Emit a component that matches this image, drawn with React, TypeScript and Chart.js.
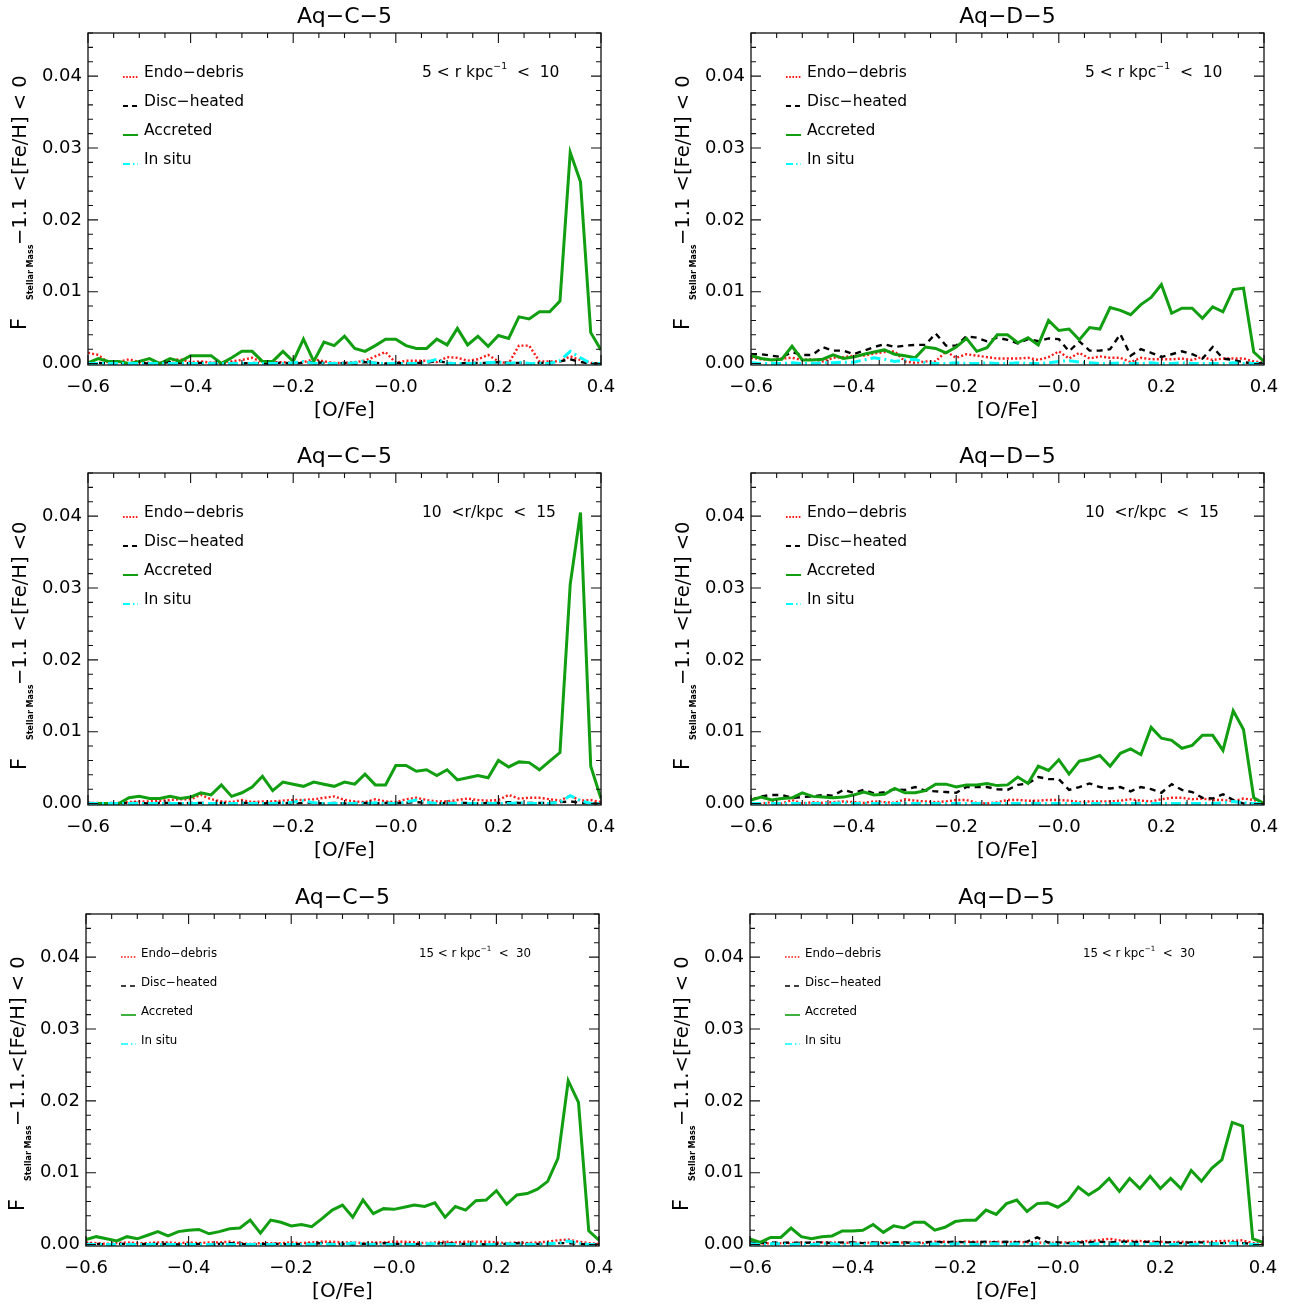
import React, { useEffect, useRef } from 'react';
import { Chart, registerables } from 'chart.js';

Chart.register(...registerables);

// ---------------- DATA ----------------
const oFe = [
  -0.60, -0.58, -0.56, -0.54, -0.52, -0.50, -0.48, -0.46, -0.44, -0.42,
  -0.40, -0.38, -0.36, -0.34, -0.32, -0.30, -0.28, -0.26, -0.24, -0.22,
  -0.20, -0.18, -0.16, -0.14, -0.12, -0.10, -0.08, -0.06, -0.04, -0.02,
  0.00, 0.02, 0.04, 0.06, 0.08, 0.10, 0.12, 0.14, 0.16, 0.18,
  0.20, 0.22, 0.24, 0.26, 0.28, 0.30, 0.32, 0.34, 0.36, 0.38,
  0.40,
];

const xTickValues = [-0.6, -0.4, -0.2, 0.0, 0.2, 0.4];
const xTickLabels = ['−0.6', '−0.4', '−0.2', '−0.0', '0.2', '0.4'];
const yTickValues = [0.0, 0.01, 0.02, 0.03, 0.04];
const yTickLabels = ['0.00', '0.01', '0.02', '0.03', '0.04'];

const seriesLabels = ['Endo−debris', 'Disc−heated', 'Accreted', 'In situ'];

// Aq-C-5, 5 < r < 10
const c5r10Endo = [
  0.0015, 0.0012, 0.0001, 0.0002, 0.0006, 0.0002, 0.0001, 0.0001, 0.0004, 0.0006,
  0.0002, 0.0003, 0.0001, 0.0002, 0.0003, 0.0005, 0.0008, 0.0002, 0.0002, 0.0002,
  0.0001, 0.0002, 0.0006, 0.0003, 0.0001, 0.0001, 0.0002, 0.0004, 0.0010, 0.0016,
  0.0001, 0.0004, 0.0004, 0.0004, 0.0002, 0.0009, 0.0008, 0.0004, 0.0006, 0.0012,
  0.0003, 0.0000, 0.0025, 0.0025, 0.0003, 0.0003, 0.0003, 0.0010, 0.0005, 0.0001,
  0.0000,
];
const c5r10Disc = [
  0.0001, 0.0001, 0.0000, 0.0001, 0.0000, 0.0001, 0.0000, 0.0001, 0.0002, 0.0001,
  0.0000, 0.0001, 0.0001, 0.0000, 0.0001, 0.0000, 0.0001, 0.0000, 0.0001, 0.0001,
  0.0000, 0.0001, 0.0002, 0.0001, 0.0000, 0.0001, 0.0000, 0.0002, 0.0001, 0.0000,
  0.0001, 0.0000, 0.0001, 0.0001, 0.0004, 0.0001, 0.0000, 0.0001, 0.0001, 0.0001,
  0.0002, 0.0001, 0.0001, 0.0000, 0.0001, 0.0001, 0.0003, 0.0006, 0.0002, 0.0000,
  0.0000,
];
const c5r10Accr = [
  0.0001, 0.0007, 0.0003, 0.0003, 0.0000, 0.0003, 0.0007, 0.0000, 0.0007, 0.0003,
  0.0011, 0.0011, 0.0011, 0.0000, 0.0008, 0.0017, 0.0017, 0.0003, 0.0003, 0.0017,
  0.0003, 0.0034, 0.0003, 0.0030, 0.0025, 0.0038, 0.0021, 0.0017, 0.0025, 0.0034,
  0.0034, 0.0025, 0.0021, 0.0021, 0.0034, 0.0026, 0.0049, 0.0026, 0.0038, 0.0024,
  0.0039, 0.0035, 0.0065, 0.0062, 0.0072, 0.0072, 0.0087, 0.0294, 0.0253, 0.0043,
  0.0019,
];
const c5r10Insitu = [
  0.0000, 0.0000, 0.0000, 0.0000, 0.0000, 0.0000, 0.0000, 0.0000, 0.0000, 0.0000,
  0.0000, 0.0000, 0.0000, 0.0000, 0.0000, 0.0000, 0.0000, 0.0000, 0.0000, 0.0000,
  0.0001, 0.0003, 0.0000, 0.0000, 0.0000, 0.0000, 0.0001, 0.0004, 0.0000, 0.0000,
  0.0000, 0.0000, 0.0000, 0.0002, 0.0006, 0.0000, 0.0000, 0.0000, 0.0000, 0.0001,
  0.0002, 0.0000, 0.0002, 0.0000, 0.0000, 0.0000, 0.0004, 0.0017, 0.0008, 0.0000,
  0.0000,
];

// Aq-D-5, 5 < r < 10
const d5r10Endo = [
  0.0008, 0.0006, 0.0005, 0.0007, 0.0008, 0.0005, 0.0006, 0.0003, 0.0008, 0.0009,
  0.0011, 0.0011, 0.0014, 0.0016, 0.0017, 0.0003, 0.0001, 0.0003, 0.0003, 0.0017,
  0.0008, 0.0013, 0.0011, 0.0009, 0.0007, 0.0007, 0.0007, 0.0008, 0.0005, 0.0009,
  0.0017, 0.0007, 0.0015, 0.0007, 0.0010, 0.0008, 0.0008, 0.0002, 0.0008, 0.0006,
  0.0006, 0.0006, 0.0007, 0.0005, 0.0009, 0.0005, 0.0007, 0.0007, 0.0007, 0.0003,
  0.0001,
];
const d5r10Disc = [
  0.0013, 0.0013, 0.0011, 0.0009, 0.0016, 0.0012, 0.0012, 0.0023, 0.0018, 0.0018,
  0.0013, 0.0018, 0.0023, 0.0027, 0.0023, 0.0025, 0.0026, 0.0026, 0.0042, 0.0025,
  0.0025, 0.0038, 0.0036, 0.0031, 0.0036, 0.0033, 0.0028, 0.0034, 0.0031, 0.0035,
  0.0034, 0.0017, 0.0031, 0.0018, 0.0018, 0.0020, 0.0041, 0.0011, 0.0020, 0.0015,
  0.0009, 0.0013, 0.0017, 0.0013, 0.0007, 0.0023, 0.0007, 0.0005, 0.0002, 0.0000,
  0.0001,
];
const d5r10Accr = [
  0.0011, 0.0007, 0.0005, 0.0006, 0.0024, 0.0005, 0.0005, 0.0006, 0.0012, 0.0007,
  0.0009, 0.0013, 0.0016, 0.0019, 0.0013, 0.0011, 0.0008, 0.0023, 0.0021, 0.0015,
  0.0023, 0.0035, 0.0017, 0.0022, 0.0040, 0.0040, 0.0029, 0.0036, 0.0026, 0.0060,
  0.0046, 0.0048, 0.0033, 0.0050, 0.0048, 0.0078, 0.0074, 0.0068, 0.0082, 0.0092,
  0.0110, 0.0070, 0.0077, 0.0077, 0.0063, 0.0079, 0.0072, 0.0103, 0.0105, 0.0016,
  0.0003,
];
const d5r10Insitu = [
  0.0001, 0.0000, 0.0000, 0.0000, 0.0001, 0.0000, 0.0000, 0.0001, 0.0001, 0.0002,
  0.0002, 0.0005, 0.0008, 0.0006, 0.0003, 0.0005, 0.0006, 0.0001, 0.0000, 0.0000,
  0.0001, 0.0000, 0.0000, 0.0001, 0.0000, 0.0000, 0.0001, 0.0000, 0.0000, 0.0001,
  0.0003, 0.0004, 0.0002, 0.0001, 0.0000, 0.0000, 0.0001, 0.0000, 0.0000, 0.0001,
  0.0000, 0.0000, 0.0001, 0.0000, 0.0000, 0.0000, 0.0000, 0.0001, 0.0000, 0.0000,
  0.0000,
];

// Aq-C-5, 10 < r < 15
const c5r15Endo = [
  0.0001, 0.0001, 0.0000, 0.0001, 0.0002, 0.0003, 0.0003, 0.0004, 0.0005, 0.0006,
  0.0006, 0.0012, 0.0006, 0.0003, 0.0002, 0.0005, 0.0002, 0.0003, 0.0003, 0.0004,
  0.0005, 0.0005, 0.0006, 0.0008, 0.0010, 0.0005, 0.0003, 0.0002, 0.0006, 0.0003,
  0.0002, 0.0006, 0.0008, 0.0005, 0.0003, 0.0003, 0.0005, 0.0007, 0.0005, 0.0004,
  0.0005, 0.0012, 0.0007, 0.0008, 0.0008, 0.0006, 0.0004, 0.0011, 0.0004, 0.0005,
  0.0002,
];
const c5r15Disc = [
  0.0001, 0.0000, 0.0001, 0.0000, 0.0001, 0.0001, 0.0000, 0.0001, 0.0001, 0.0000,
  0.0001, 0.0001, 0.0000, 0.0001, 0.0000, 0.0001, 0.0001, 0.0000, 0.0001, 0.0001,
  0.0000, 0.0001, 0.0001, 0.0000, 0.0001, 0.0000, 0.0001, 0.0001, 0.0000, 0.0001,
  0.0001, 0.0001, 0.0002, 0.0001, 0.0000, 0.0001, 0.0001, 0.0001, 0.0000, 0.0001,
  0.0001, 0.0002, 0.0001, 0.0001, 0.0001, 0.0001, 0.0002, 0.0003, 0.0001, 0.0000,
  0.0000,
];
const c5r15Accr = [
  0.0000, 0.0000, 0.0000, 0.0000, 0.0008, 0.0010, 0.0007, 0.0007, 0.0010, 0.0007,
  0.0009, 0.0015, 0.0012, 0.0026, 0.0010, 0.0015, 0.0023, 0.0038, 0.0018, 0.0030,
  0.0027, 0.0024, 0.0030, 0.0027, 0.0024, 0.0030, 0.0027, 0.0041, 0.0026, 0.0026,
  0.0053, 0.0053, 0.0045, 0.0047, 0.0039, 0.0047, 0.0033, 0.0036, 0.0039, 0.0036,
  0.0060, 0.0051, 0.0058, 0.0057, 0.0047, 0.0059, 0.0071, 0.0305, 0.0405, 0.0052,
  0.0007,
];
const c5r15Insitu = [
  0.0000, 0.0000, 0.0000, 0.0000, 0.0000, 0.0000, 0.0000, 0.0000, 0.0000, 0.0000,
  0.0000, 0.0000, 0.0000, 0.0000, 0.0000, 0.0000, 0.0000, 0.0000, 0.0000, 0.0001,
  0.0002, 0.0004, 0.0001, 0.0000, 0.0000, 0.0000, 0.0000, 0.0000, 0.0001, 0.0000,
  0.0000, 0.0002, 0.0005, 0.0002, 0.0000, 0.0000, 0.0000, 0.0000, 0.0000, 0.0000,
  0.0000, 0.0000, 0.0001, 0.0000, 0.0000, 0.0000, 0.0002, 0.0011, 0.0004, 0.0000,
  0.0000,
];

// Aq-D-5, 10 < r < 15
const d5r15Endo = [
  0.0000, 0.0000, 0.0002, 0.0000, 0.0005, 0.0000, 0.0002, 0.0001, 0.0002, 0.0003,
  0.0002, 0.0001, 0.0003, 0.0002, 0.0001, 0.0006, 0.0004, 0.0003, 0.0002, 0.0003,
  0.0005, 0.0005, 0.0001, 0.0000, 0.0002, 0.0005, 0.0005, 0.0004, 0.0004, 0.0005,
  0.0005, 0.0004, 0.0002, 0.0003, 0.0003, 0.0003, 0.0004, 0.0006, 0.0004, 0.0003,
  0.0006, 0.0008, 0.0008, 0.0006, 0.0007, 0.0005, 0.0005, 0.0003, 0.0007, 0.0005,
  0.0001,
];
const d5r15Disc = [
  0.0005, 0.0010, 0.0012, 0.0012, 0.0008, 0.0009, 0.0010, 0.0012, 0.0011, 0.0019,
  0.0015, 0.0019, 0.0014, 0.0016, 0.0020, 0.0019, 0.0023, 0.0018, 0.0017, 0.0016,
  0.0015, 0.0023, 0.0023, 0.0023, 0.0020, 0.0019, 0.0026, 0.0028, 0.0037, 0.0034,
  0.0034, 0.0019, 0.0023, 0.0028, 0.0023, 0.0021, 0.0023, 0.0017, 0.0023, 0.0020,
  0.0015, 0.0027, 0.0019, 0.0016, 0.0008, 0.0007, 0.0013, 0.0005, 0.0000, 0.0000,
  0.0000,
];
const d5r15Accr = [
  0.0005, 0.0009, 0.0005, 0.0007, 0.0008, 0.0015, 0.0010, 0.0009, 0.0008, 0.0009,
  0.0012, 0.0016, 0.0012, 0.0013, 0.0021, 0.0015, 0.0015, 0.0018, 0.0027, 0.0027,
  0.0023, 0.0026, 0.0026, 0.0028, 0.0025, 0.0026, 0.0037, 0.0028, 0.0052, 0.0046,
  0.0061, 0.0041, 0.0059, 0.0062, 0.0067, 0.0052, 0.0070, 0.0076, 0.0068, 0.0106,
  0.0091, 0.0088, 0.0077, 0.0081, 0.0095, 0.0095, 0.0074, 0.0129, 0.0103, 0.0008,
  0.0000,
];
const d5r15Insitu = [
  0.0000, 0.0000, 0.0000, 0.0000, 0.0000, 0.0000, 0.0000, 0.0000, 0.0000, 0.0001,
  0.0000, 0.0000, 0.0000, 0.0000, 0.0000, 0.0000, 0.0000, 0.0000, 0.0000, 0.0000,
  0.0000, 0.0000, 0.0000, 0.0000, 0.0000, 0.0000, 0.0000, 0.0000, 0.0000, 0.0000,
  0.0000, 0.0000, 0.0000, 0.0000, 0.0000, 0.0000, 0.0000, 0.0000, 0.0000, 0.0000,
  0.0000, 0.0000, 0.0000, 0.0000, 0.0000, 0.0000, 0.0001, 0.0003, 0.0001, 0.0000,
  0.0000,
];

// Aq-C-5, 15 < r < 30
const c5r30Endo = [
  0.0003, 0.0002, 0.0001, 0.0002, 0.0003, 0.0002, 0.0002, 0.0003, 0.0003, 0.0002,
  0.0003, 0.0002, 0.0003, 0.0003, 0.0004, 0.0002, 0.0001, 0.0002, 0.0002, 0.0002,
  0.0003, 0.0002, 0.0003, 0.0004, 0.0004, 0.0003, 0.0003, 0.0002, 0.0003, 0.0003,
  0.0004, 0.0004, 0.0003, 0.0002, 0.0003, 0.0004, 0.0003, 0.0004, 0.0004, 0.0004,
  0.0003, 0.0002, 0.0003, 0.0002, 0.0003, 0.0004, 0.0006, 0.0007, 0.0004, 0.0002,
  0.0001,
];
const c5r30Disc = [
  0.0001, 0.0001, 0.0000, 0.0001, 0.0001, 0.0000, 0.0001, 0.0001, 0.0001, 0.0000,
  0.0001, 0.0001, 0.0000, 0.0001, 0.0002, 0.0001, 0.0000, 0.0001, 0.0001, 0.0001,
  0.0000, 0.0001, 0.0001, 0.0002, 0.0001, 0.0001, 0.0000, 0.0001, 0.0001, 0.0002,
  0.0001, 0.0001, 0.0001, 0.0000, 0.0001, 0.0002, 0.0001, 0.0001, 0.0001, 0.0000,
  0.0001, 0.0001, 0.0002, 0.0001, 0.0001, 0.0001, 0.0002, 0.0002, 0.0001, 0.0000,
  0.0000,
];
const c5r30Accr = [
  0.0007, 0.0011, 0.0008, 0.0005, 0.0011, 0.0008, 0.0013, 0.0018, 0.0012, 0.0018,
  0.0020, 0.0021, 0.0015, 0.0018, 0.0022, 0.0023, 0.0034, 0.0016, 0.0034, 0.0031,
  0.0026, 0.0028, 0.0025, 0.0036, 0.0048, 0.0055, 0.0038, 0.0062, 0.0043, 0.0050,
  0.0049, 0.0052, 0.0055, 0.0053, 0.0058, 0.0038, 0.0053, 0.0048, 0.0061, 0.0062,
  0.0075, 0.0056, 0.0069, 0.0071, 0.0077, 0.0088, 0.0120, 0.0228, 0.0198, 0.0019,
  0.0006,
];
const c5r30Insitu = [
  0.0000, 0.0000, 0.0000, 0.0000, 0.0000, 0.0000, 0.0000, 0.0000, 0.0000, 0.0000,
  0.0000, 0.0000, 0.0000, 0.0000, 0.0000, 0.0000, 0.0000, 0.0000, 0.0000, 0.0000,
  0.0000, 0.0000, 0.0000, 0.0001, 0.0000, 0.0000, 0.0002, 0.0001, 0.0000, 0.0000,
  0.0000, 0.0000, 0.0000, 0.0001, 0.0001, 0.0000, 0.0000, 0.0000, 0.0001, 0.0000,
  0.0000, 0.0001, 0.0000, 0.0000, 0.0000, 0.0001, 0.0002, 0.0005, 0.0002, 0.0000,
  0.0000,
];

// Aq-D-5, 15 < r < 30
const d5r30Endo = [
  0.0001, 0.0001, 0.0002, 0.0002, 0.0002, 0.0003, 0.0002, 0.0003, 0.0003, 0.0002,
  0.0003, 0.0002, 0.0003, 0.0003, 0.0002, 0.0003, 0.0003, 0.0002, 0.0004, 0.0004,
  0.0003, 0.0004, 0.0004, 0.0003, 0.0004, 0.0003, 0.0004, 0.0003, 0.0003, 0.0002,
  0.0003, 0.0003, 0.0004, 0.0005, 0.0006, 0.0008, 0.0006, 0.0005, 0.0005, 0.0004,
  0.0004, 0.0003, 0.0004, 0.0003, 0.0004, 0.0004, 0.0005, 0.0005, 0.0006, 0.0002,
  0.0001,
];
const d5r30Disc = [
  0.0003, 0.0002, 0.0003, 0.0002, 0.0003, 0.0002, 0.0003, 0.0003, 0.0002, 0.0003,
  0.0003, 0.0002, 0.0003, 0.0002, 0.0003, 0.0003, 0.0002, 0.0003, 0.0004, 0.0003,
  0.0004, 0.0003, 0.0003, 0.0004, 0.0003, 0.0004, 0.0003, 0.0004, 0.0010, 0.0003,
  0.0003, 0.0002, 0.0003, 0.0003, 0.0004, 0.0003, 0.0004, 0.0004, 0.0003, 0.0004,
  0.0003, 0.0003, 0.0002, 0.0003, 0.0003, 0.0002, 0.0002, 0.0003, 0.0002, 0.0001,
  0.0000,
];
const d5r30Accr = [
  0.0008, 0.0003, 0.0010, 0.0010, 0.0023, 0.0011, 0.0008, 0.0011, 0.0012, 0.0019,
  0.0019, 0.0020, 0.0028, 0.0017, 0.0026, 0.0023, 0.0031, 0.0031, 0.0020, 0.0024,
  0.0032, 0.0034, 0.0034, 0.0048, 0.0042, 0.0057, 0.0062, 0.0046, 0.0057, 0.0058,
  0.0052, 0.0061, 0.0080, 0.0069, 0.0078, 0.0092, 0.0074, 0.0092, 0.0078, 0.0095,
  0.0078, 0.0092, 0.0078, 0.0103, 0.0088, 0.0106, 0.0118, 0.0170, 0.0165, 0.0008,
  0.0003,
];
const d5r30Insitu = [
  0.0001, 0.0000, 0.0001, 0.0001, 0.0000, 0.0001, 0.0000, 0.0001, 0.0001, 0.0000,
  0.0001, 0.0000, 0.0001, 0.0001, 0.0000, 0.0001, 0.0001, 0.0000, 0.0001, 0.0000,
  0.0001, 0.0001, 0.0000, 0.0001, 0.0001, 0.0000, 0.0001, 0.0000, 0.0001, 0.0001,
  0.0000, 0.0001, 0.0001, 0.0000, 0.0001, 0.0000, 0.0001, 0.0001, 0.0000, 0.0001,
  0.0001, 0.0000, 0.0001, 0.0000, 0.0001, 0.0001, 0.0001, 0.0002, 0.0001, 0.0000,
  0.0000,
];

// ---------------- STYLE / LAYOUT ----------------
const FONT = "'DejaVu Sans', sans-serif";
const font = (px: number) => `${px}px ${FONT}`;

const lineColors = ['#ff1a1a', '#000000', '#119e11', '#00ffff'];
const lineWidths = [2.4, 2.4, 3, 3];
const lineDashes = [[2, 2.2], [6, 5], [], [10, 4, 2, 4]];
const legendDashes = [[1.6, 1.6], [5, 4], [], [7, 3, 1.5, 3]];

type Part = { t: string; sup?: boolean };
type PanelCfg = {
  title: string;
  yText: string;
  note: Part[];
  series: number[][];
  left: number;
  top: number;
  height: number;
  small: boolean;
};

const CANVAS_W = 627;
const PAD_LEFT = 25;
const YAXIS_W = 60;
const PAD_TOP = 33;
const PLOT_H = 332;
const XAXIS_H = 40;
const PAD_RIGHT = 29;

const panels: PanelCfg[] = [
  {
    title: 'Aq−C−5', yText: '−1.1 <[Fe/H] < 0',
    note: [{ t: '5 < r kpc' }, { t: '−1', sup: true }, { t: '  <  10' }],
    series: [c5r10Endo, c5r10Disc, c5r10Accr, c5r10Insitu],
    left: 3, top: 0, height: 435, small: false,
  },
  {
    title: 'Aq−D−5', yText: '−1.1 <[Fe/H] < 0',
    note: [{ t: '5 < r kpc' }, { t: '−1', sup: true }, { t: '  <  10' }],
    series: [d5r10Endo, d5r10Disc, d5r10Accr, d5r10Insitu],
    left: 666, top: 0, height: 435, small: false,
  },
  {
    title: 'Aq−C−5', yText: '−1.1 <[Fe/H] <0',
    note: [{ t: '10  <r/kpc  <  15' }],
    series: [c5r15Endo, c5r15Disc, c5r15Accr, c5r15Insitu],
    left: 3, top: 440, height: 435, small: false,
  },
  {
    title: 'Aq−D−5', yText: '−1.1 <[Fe/H] <0',
    note: [{ t: '10  <r/kpc  <  15' }],
    series: [d5r15Endo, d5r15Disc, d5r15Accr, d5r15Insitu],
    left: 666, top: 440, height: 435, small: false,
  },
  {
    title: 'Aq−C−5', yText: '−1.1.<[Fe/H] < 0',
    note: [{ t: '15 < r kpc' }, { t: '−1', sup: true }, { t: '  <  30' }],
    series: [c5r30Endo, c5r30Disc, c5r30Accr, c5r30Insitu],
    left: 1, top: 881, height: 423, small: true,
  },
  {
    title: 'Aq−D−5', yText: '−1.1.<[Fe/H] < 0',
    note: [{ t: '15 < r kpc' }, { t: '−1', sup: true }, { t: '  <  30' }],
    series: [d5r30Endo, d5r30Disc, d5r30Accr, d5r30Insitu],
    left: 665, top: 881, height: 423, small: true,
  },
];

function makeOverlay(cfg: PanelCfg) {
  return {
    id: 'idlOverlay',
    afterDraw(chart: any) {
      const ctx: CanvasRenderingContext2D = chart.ctx;
      const { left, right, top, bottom } = chart.chartArea;
      const xs = chart.scales.x;
      const ys = chart.scales.y;
      ctx.save();
      ctx.setLineDash([]);
      ctx.strokeStyle = '#111';
      ctx.lineWidth = 1.3;
      ctx.strokeRect(left, top, right - left, bottom - top);

      // inward ticks on all four sides
      ctx.lineWidth = 1.1;
      ctx.beginPath();
      for (let k = 0; k <= 20; k++) {
        const p = xs.getPixelForValue(-0.6 + k * 0.05);
        const len = k % 4 === 0 ? 10 : 5;
        ctx.moveTo(p, bottom); ctx.lineTo(p, bottom - len);
        ctx.moveTo(p, top); ctx.lineTo(p, top + len);
      }
      for (let k = 0; k <= 23; k++) {
        const v = k * 0.002;
        if (v > ys.max) break;
        const p = ys.getPixelForValue(v);
        const len = k % 5 === 0 ? 10 : 5;
        ctx.moveTo(left, p); ctx.lineTo(left + len, p);
        ctx.moveTo(right, p); ctx.lineTo(right - len, p);
      }
      ctx.stroke();

      ctx.fillStyle = '#000';
      // title
      ctx.font = font(22);
      ctx.textAlign = 'center';
      ctx.textBaseline = 'alphabetic';
      ctx.fillText(cfg.title, (left + right) / 2, top - 10);

      // x axis title
      ctx.font = font(20);
      ctx.textBaseline = 'middle';
      ctx.fillText('[O/Fe]', (left + right) / 2, bottom + 46);

      // y axis title (rotated)
      ctx.save();
      ctx.translate(left - 62, bottom - 35);
      ctx.rotate(-Math.PI / 2);
      ctx.textAlign = 'left';
      ctx.textBaseline = 'alphabetic';
      ctx.font = font(21);
      ctx.fillText('F', 0, 0);
      ctx.font = `bold 8px ${FONT}`;
      ctx.fillText('Stellar Mass', 30, 7);
      ctx.font = font(19.5);
      ctx.fillText(cfg.yText, 85, 0);
      ctx.restore();

      // legend
      const fs = cfg.small ? 11.8 : 15.5;
      const y0 = top + (cfg.small ? 40 : 40);
      for (let i = 0; i < 4; i++) {
        const y = y0 + i * 29;
        ctx.beginPath();
        ctx.strokeStyle = lineColors[i];
        ctx.lineWidth = cfg.small ? 1.6 : 2;
        ctx.setLineDash(legendDashes[i]);
        ctx.moveTo(left + 35, y + (cfg.small ? 3 : 4));
        ctx.lineTo(left + 50, y + (cfg.small ? 3 : 4));
        ctx.stroke();
        ctx.setLineDash([]);
        ctx.font = font(fs);
        ctx.textAlign = 'left';
        ctx.textBaseline = 'middle';
        ctx.fillStyle = '#000';
        ctx.fillText(seriesLabels[i], left + (cfg.small ? 55 : 56), y);
      }

      // radial range note
      let x = left + (cfg.small ? 333 : 334);
      const ny = top + (cfg.small ? 40 : 40);
      for (const part of cfg.note) {
        if (part.sup) {
          ctx.font = font(fs * 0.6);
          ctx.fillText(part.t, x, ny - fs * 0.42);
        } else {
          ctx.font = font(fs);
          ctx.fillText(part.t, x, ny);
        }
        x += ctx.measureText(part.t).width;
      }
      ctx.restore();
    },
  };
}

function Panel({ cfg }: { cfg: PanelCfg }) {
  const ref = useRef<HTMLCanvasElement>(null);
  useEffect(() => {
    const canvas = ref.current;
    if (!canvas) return;
    const datasets = cfg.series.map((arr, i) => ({
      label: seriesLabels[i],
      data: oFe.map((x, j) => ({ x, y: arr[j] })),
      borderColor: lineColors[i],
      backgroundColor: lineColors[i],
      borderWidth: lineWidths[i],
      borderDash: lineDashes[i],
      pointRadius: 0,
      fill: false,
      tension: 0,
      order: 4 - i,
      borderJoinStyle: 'miter' as const,
    }));
    const chart = new Chart(canvas, {
      type: 'line',
      data: { datasets },
      options: {
        animation: false,
        responsive: false,
        maintainAspectRatio: false,
        events: [],
        layout: {
          autoPadding: false,
          padding: {
            left: PAD_LEFT,
            top: PAD_TOP,
            right: PAD_RIGHT,
            bottom: cfg.height - PAD_TOP - PLOT_H - XAXIS_H,
          },
        },
        plugins: {
          legend: { display: false },
          tooltip: { enabled: false },
          title: { display: false },
        },
        scales: {
          x: {
            type: 'linear',
            min: -0.6,
            max: 0.4,
            afterBuildTicks: (s: any) => {
              s.ticks = xTickValues.map((v) => ({ value: v }));
            },
            afterFit: (s: any) => {
              s.height = XAXIS_H;
            },
            ticks: {
              callback: (_v: any, i: number) => xTickLabels[i],
              font: { family: FONT, size: 18 },
              color: '#000',
              padding: 12,
              maxRotation: 0,
              autoSkip: false,
            },
            grid: { display: false, drawTicks: false },
            border: { display: false },
          },
          y: {
            type: 'linear',
            min: -0.0002,
            max: 0.046,
            afterBuildTicks: (s: any) => {
              s.ticks = yTickValues.map((v) => ({ value: v }));
            },
            afterFit: (s: any) => {
              s.width = YAXIS_W;
            },
            ticks: {
              callback: (_v: any, i: number) => yTickLabels[i],
              font: { family: FONT, size: 18 },
              color: '#000',
              padding: 6,
              autoSkip: false,
            },
            grid: { display: false, drawTicks: false },
            border: { display: false },
          },
        },
      } as any,
      plugins: [makeOverlay(cfg)],
    });
    return () => chart.destroy();
  }, [cfg]);
  return (
    <canvas
      ref={ref}
      width={CANVAS_W}
      height={cfg.height}
      style={{
        position: 'absolute',
        left: cfg.left,
        top: cfg.top,
        width: CANVAS_W,
        height: cfg.height,
        display: 'block',
      }}
    />
  );
}

export default function App() {
  return (
    <div
      style={{
        position: 'absolute',
        left: 0,
        top: 0,
        width: 1293,
        height: 1304,
        overflow: 'hidden',
        background: '#fff',
      }}
    >
      {panels.map((p, i) => (
        <Panel key={i} cfg={p} />
      ))}
    </div>
  );
}
